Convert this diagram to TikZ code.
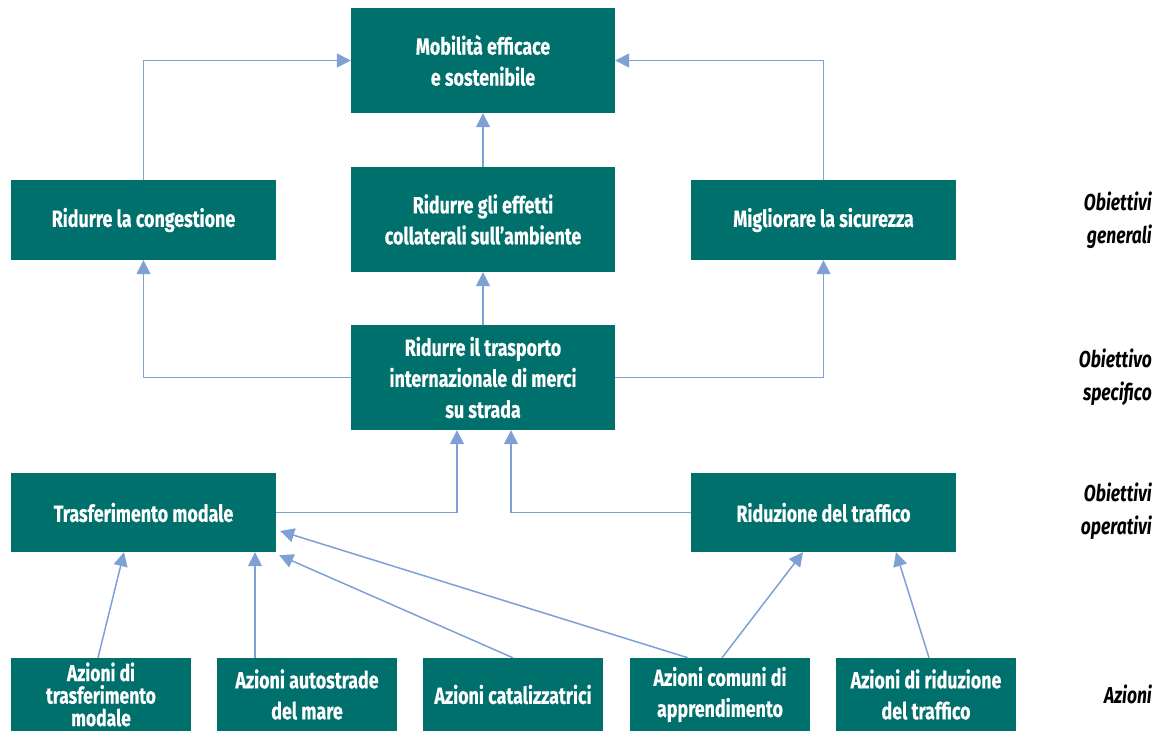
\documentclass[tikz,border=0pt]{standalone}
\usepackage{fontspec}
\setmainfont{Fira Sans}[FakeStretch=0.76,BoldFeatures={FakeBold=0.4}]
\usetikzlibrary{arrows.meta}
\definecolor{boxteal}{RGB}{0,112,109}
\definecolor{arrowblue}{RGB}{127,160,213}
\begin{document}
\begin{tikzpicture}[x=1pt,y=-1pt,
  box/.style={fill=boxteal,text=white,inner sep=0pt,align=center,
    font=\fontsize{23.5}{31}\selectfont\bfseries},
  wide/.style={box,minimum width=265,minimum height=80},
  tall/.style={box,minimum width=264,minimum height=105},
  small/.style={box,minimum width=180,minimum height=73},
  link/.style={draw=arrowblue,line width=1.5pt,-{Triangle[length=14,width=14]}},
  level/.style={anchor=east,align=right,inner sep=0pt,
    font=\fontsize{23}{33}\selectfont\bfseries\itshape}]
\useasboundingbox (0,0) rectangle (1165,731);

\node[tall] (top) at (483,60.5) {Mobilità efficace\\e sostenibile};
\node[wide] (cong) at (143.5,220) {Ridurre la congestione};
\node[tall] (eff) at (483,219.5) {Ridurre gli effetti\\collaterali sull’ambiente};
\node[wide] (sic) at (823.5,220) {Migliorare la sicurezza};
\node[tall] (spec) at (483,377.5) {Ridurre il trasporto\\internazionale di merci\\su strada};
\node[wide,minimum height=79] (trasf) at (143.5,512.5) {Trasferimento modale};
\node[wide,minimum height=79] (ridu) at (823.5,512.5) {Riduzione del traffico};

\node[small,font=\fontsize{23}{22.5}\selectfont\bfseries] (a1) at (101,694.5) {Azioni di\\trasferimento\\modale};
\node[small] (a2) at (307,694.5) {Azioni autostrade\\del mare};
\node[small] (a3) at (513,694.5) {Azioni catalizzatrici};
\node[small] (a4) at (720,694.5) {Azioni comuni di\\apprendimento};
\node[small] (a5) at (926,694.5) {Azioni di riduzione\\del traffico};

\node[level] (l1) at (1152,220) {Obiettivi\\generali};
\node[level] (l2) at (1152,377) {Obiettivo\\specifico};
\node[level] (l3) at (1152,511) {Obiettivi\\operativi};
\node[level] (l4) at (1152,694) {Azioni};

\draw[link] (cong.north) |- (top.west);
\draw[link] (sic.north) |- (top.east);
\draw[link] (eff.north) -- (top.south);
\draw[link] (spec.north) -- (eff.south);
\draw[link] (spec.west) -| (cong.south);
\draw[link] (spec.east) -| (sic.south);
\draw[link] (trasf.east) -| ([xshift=-26]spec.south);
\draw[link] (ridu.west) -| ([xshift=28]spec.south);

\draw[link] ([xshift=-3]a1.north) -- ([xshift=-19.5]trasf.south);
\draw[link] ([xshift=-52]a2.north) -- ([xshift=111.5]trasf.south);
\draw[link] (a3.north) -- ([xshift=3,yshift=-3]trasf.south east);
\draw[link] ([xshift=-32]a4.north) -- ([xshift=4,yshift=-18.5]trasf.east);
\draw[link] ([xshift=2]a4.north) -- ([xshift=-20.5]ridu.south);
\draw[link] ([xshift=3]a5.north) -- ([xshift=72.5]ridu.south);
\end{tikzpicture}
\end{document}
